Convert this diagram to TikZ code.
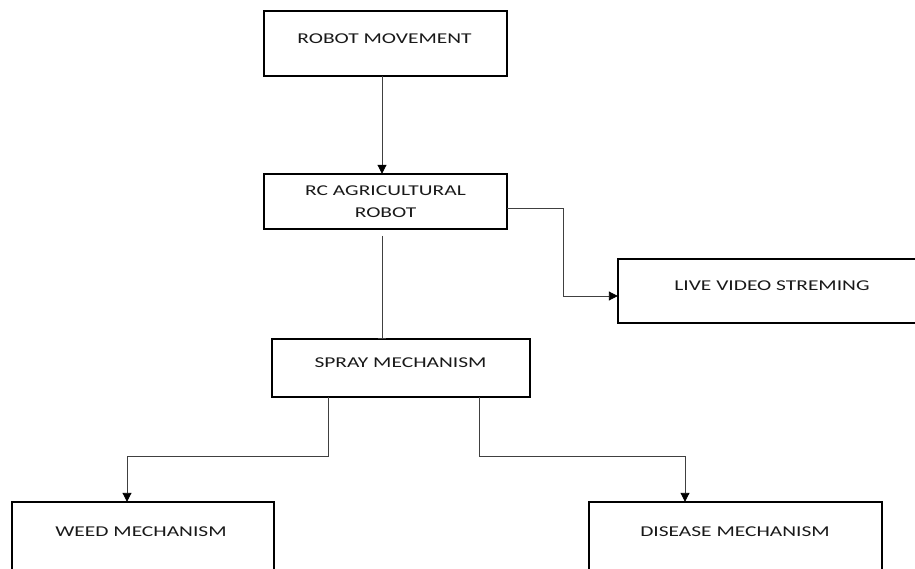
\documentclass[tikz,border=0pt]{standalone}
\usepackage{fontspec}
\setmainfont[FakeStretch=1.43]{Carlito}
\usetikzlibrary{arrows.meta}
\begin{document}
\begin{tikzpicture}[x=1pt,y=-1pt,
  box/.style={draw=black,line width=1.6pt},
  lbl/.style={font=\fontsize{15}{22}\selectfont,text=black!90,inner sep=0pt,align=center},
  conn/.style={draw=black!75,line width=0.9pt},
  arr/.style={conn,-{Triangle[length=9pt,width=9pt,color=black]}}]
\clip (0,0) rectangle (915,569);
% boxes
\draw[box] (264,11) rectangle (507,76);
\node (mov) at (385.5,43.5) [minimum width=243pt,minimum height=65pt,inner sep=0pt] {};
\node[lbl] (tmov) at (384.5,39) {ROBOT MOVEMENT};
\draw[box] (264,174) rectangle (507,229);
\node (rc) at (385.5,201.5) [minimum width=243pt,minimum height=55pt,inner sep=0pt] {};
\node[lbl] (trc) at (385.5,202) {RC AGRICULTURAL\\ROBOT};
\draw[box] (618,259) rectangle (940,323);
\node (live) at (779,291) [minimum width=322pt,minimum height=64pt,inner sep=0pt] {};
\node[lbl] (tlive) at (772,286) {LIVE VIDEO STREMING};
\draw[box] (272,339) rectangle (530,397);
\node (spray) at (401,368) [minimum width=258pt,minimum height=58pt,inner sep=0pt] {};
\node[lbl] (tspray) at (400.5,363) {SPRAY MECHANISM};
\draw[box] (12,502) rectangle (274,620);
\node (weed) at (143,561) [minimum width=262pt,minimum height=118pt,inner sep=0pt] {};
\node[lbl] (tweed) at (141,532) {WEED MECHANISM};
\draw[box] (589,502) rectangle (882,620);
\node (dis) at (735.5,561) [minimum width=293pt,minimum height=118pt,inner sep=0pt] {};
\node[lbl] (tdis) at (735,532) {DISEASE MECHANISM};
% connectors
\draw[arr] (mov.south -| 382,0) -- (rc.north -| 382,0);
\draw[arr] (rc.east |- 0,208) -| (563,296) -- (live.west |- 0,296);
\coordinate (rcgap) at (382,236);
\draw[conn,-{Bar[width=8pt]}] (rcgap) -- (spray.north -| 382,0);
\draw[arr] (spray.south -| 328,0) |- (127,456) -- (weed.north -| 127,0);
\draw[arr] (spray.south -| 479,0) |- (685,456) -- (dis.north -| 685,0);
\end{tikzpicture}
\end{document}
